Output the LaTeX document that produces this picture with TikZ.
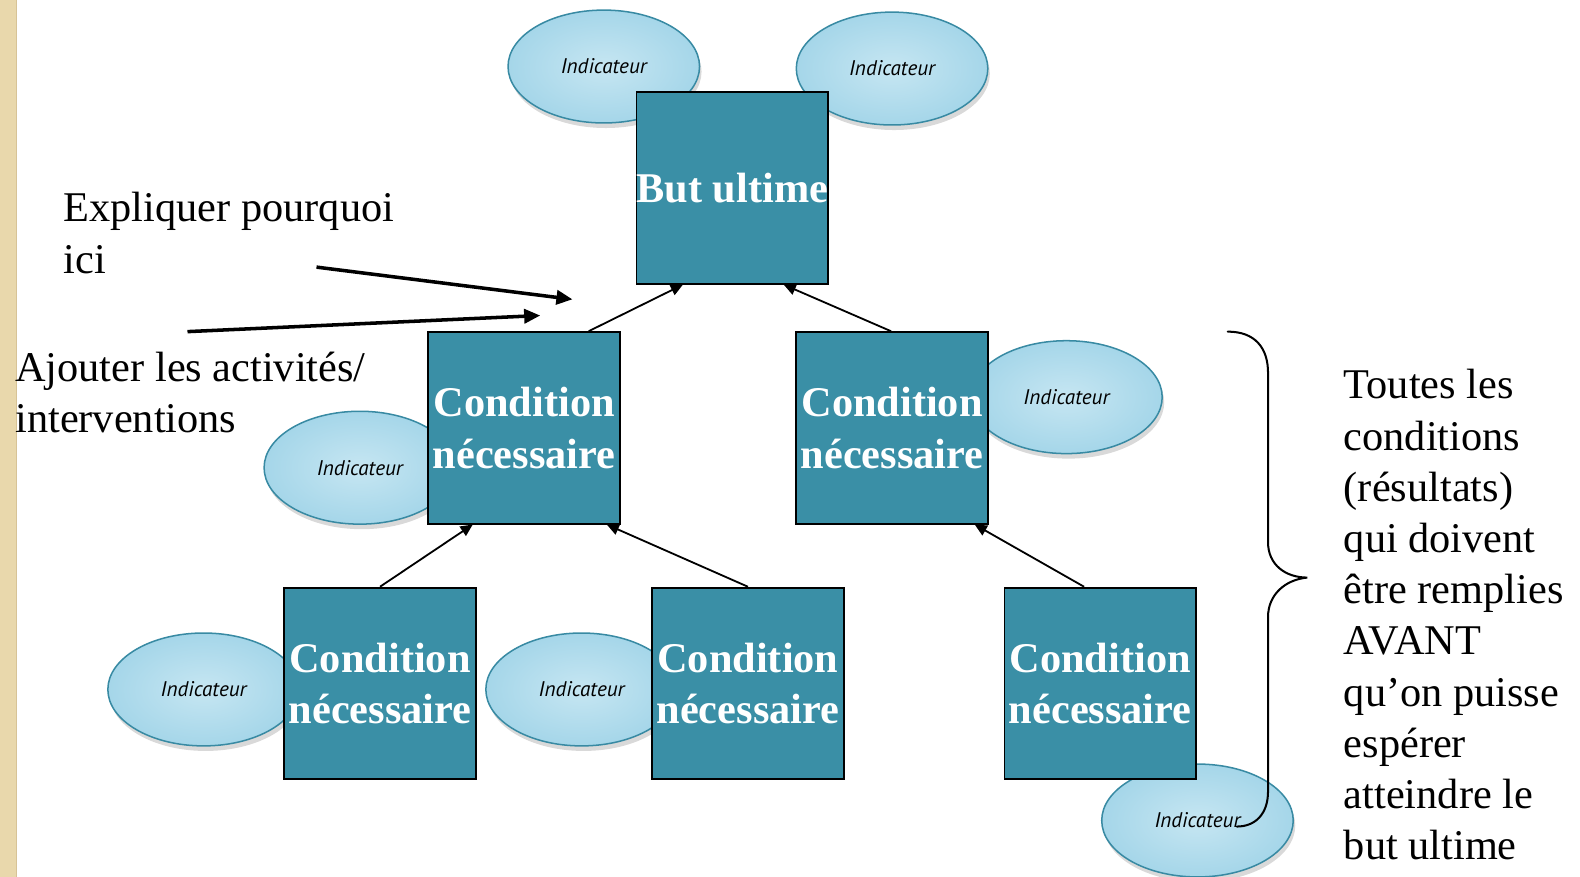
\documentclass[tikz,border=0pt]{standalone}
\usepackage{fontspec}
\setmainfont{Liberation Serif}
\newfontfamily\indfont{PT Sans}
\usetikzlibrary{arrows.meta,shapes.geometric,shadows}
\definecolor{teal1}{RGB}{58,143,166}
\definecolor{ellin}{RGB}{198,230,242}
\definecolor{ellout}{RGB}{165,214,233}
\definecolor{ellborder}{RGB}{56,138,163}
\definecolor{tan1}{RGB}{233,216,172}
\definecolor{tan2}{RGB}{215,195,150}
\begin{document}
\begin{tikzpicture}[x=1pt,y=-1pt,
  indic/.style={ellipse, draw=ellborder, line width=1.5pt, inner color=ellin, outer color=ellout,
    minimum width=190pt, minimum height=112pt, inner sep=0pt,
    font=\indfont\itshape\fontsize{21}{25}\selectfont,
    drop shadow={opacity=0.3, shadow xshift=2pt, shadow yshift=-5pt}},
  cbox/.style={draw=black, line width=1.8pt, fill=teal1, minimum width=190pt, minimum height=190pt,
    inner sep=0pt, align=center, text=white, font=\bfseries\fontsize{42}{51}\selectfont},
  link/.style={line width=1.8pt, -{Triangle[length=12pt,width=11pt]}},
  bigarrow/.style={line width=3.5pt, -{Triangle[length=16pt,width=14pt]}},
  lab/.style={inner sep=0pt, align=left, font=\fontsize{42}{50.8}\selectfont}]
\useasboundingbox (0,0) rectangle (1567.5,870);
% left decorative strip
\fill[tan1] (0,0) rectangle (16,870);
\draw[tan2, line width=1pt] (16,0) -- (16,870);

% indicator ellipses (behind boxes)
\node[indic] (i1) at (599,66) {Indicateur};
\node[indic] (i2) at (885,68) {Indicateur};
\node[indic] (i3) at (1058,394) {Indicateur};
\node[indic] (i4) at (357,464) {Indicateur};
\node[indic] (i5) at (202,684) {Indicateur};
\node[indic] (i6) at (577,684) {Indicateur};
\node[indic] (i7) at (1188,814) {Indicateur};

% boxes
\node[cbox] (top) at (726.5,186.5) {But ultime};
\node[cbox] (ml) at (520,424.5) {Condition\\nécessaire};
\node[cbox] (mr) at (885,424.5) {Condition\\nécessaire};
\node[cbox] (bl) at (377,678) {Condition\\nécessaire};
\node[cbox] (bm) at (742,678) {Condition\\nécessaire};
\node[cbox] (br) at (1091.5,678) {Condition\\nécessaire};

% connectors
\draw[link] ([xshift=64pt]ml.north) -- ([xshift=-49pt]top.south);
\draw[link] ([xshift=-1pt]mr.north) -- ([xshift=51pt]top.south);
\draw[link] (bl.north) -- ([xshift=-51pt]ml.south);
\draw[link] (bm.north) -- ([xshift=82pt]ml.south);
\draw[link] ([xshift=-16pt]br.north) -- ([xshift=82pt]mr.south);

% texts (base anchor = baseline of last line)
\node[lab, anchor=base west] (expl) at (63,271) {Expliquer pourquoi\\ici};
\node[lab, anchor=base west] (ajout) at (15,429) {Ajouter les activités/\\interventions};
\node[lab, anchor=base west] (rtext) at (1333,853) {Toutes les\\conditions\\(résultats)\\qui doivent\\être remplies\\AVANT\\qu’on puisse\\espérer\\atteindre le\\but ultime};

% big arrows
\coordinate (a1s) at (314,265);
\coordinate (a1e) at (568,297);
\coordinate (a2s) at (186,329);
\coordinate (a2e) at (536,313);
\draw[bigarrow] (a1s) -- (a1e);
\draw[bigarrow] (a2s) -- (a2e);

% brace
\draw[line width=2pt, line cap=round] (1218,329) .. controls (1245,329) and (1258,345) .. (1258,370)
  -- (1258,538) .. controls (1258,560) and (1275,573) .. (1297,573)
  .. controls (1275,575) and (1258,590) .. (1258,612)
  -- (1258,785) .. controls (1258,808) and (1245,820) .. (1227,820);
\end{tikzpicture}
\end{document}
